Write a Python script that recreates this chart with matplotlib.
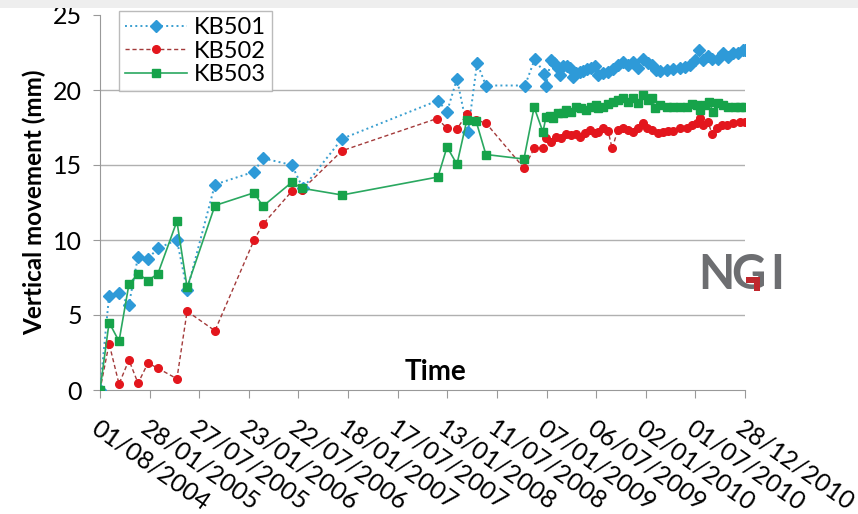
import matplotlib
matplotlib.use("Agg")
import matplotlib.pyplot as plt
import numpy as np
import pandas as pd
from matplotlib.patches import Rectangle, Polygon

start = np.datetime64("2004-08-01")

# days after 01/08/2004
days_501 = [0, 33, 69, 105, 138, 174, 210, 279, 316, 417, 559, 591, 696, 736, 878,
            1226, 1259, 1295, 1335, 1368, 1400, 1542, 1578, 1611, 1618, 1636, 1647,
            1662, 1669, 1680, 1694, 1705, 1716, 1727, 1741, 1752, 1767, 1781, 1796,
            1807, 1825, 1843, 1861, 1879, 1897, 1916, 1934, 1952, 1970, 1988, 2003,
            2017, 2032, 2057, 2079, 2104, 2122, 2140, 2159, 2173, 2188, 2206, 2220,
            2242, 2260, 2278, 2297, 2315, 2333, 2340]
kb501 = [0, 6.3, 6.45, 5.7, 8.9, 8.75, 9.45, 10.0, 6.65, 13.7, 14.55, 15.45, 15.0, 13.45, 16.75,
         19.3, 18.55, 20.75, 17.2, 21.8, 20.3, 20.3, 22.1, 21.1, 20.3, 22.0, 21.8,
         21.45, 21.0, 21.6, 21.6, 21.45, 20.9, 21.15, 21.2, 21.25, 21.4, 21.45, 21.6,
         21.0, 21.15, 21.2, 21.4, 21.65, 21.85, 21.65, 21.85, 21.45, 22.1, 21.8, 21.65,
         21.35, 21.3, 21.35, 21.4, 21.5, 21.55, 21.65, 22.0, 22.7, 22.0, 22.3, 22.1,
         22.1, 22.45, 22.2, 22.45, 22.5, 22.65, 22.7]

days_502 = [0, 33, 69, 105, 138, 174, 210, 279, 316, 417, 559, 591, 696, 733, 878,
            1223, 1259, 1295, 1331, 1364, 1400, 1538, 1575, 1607, 1618, 1636, 1654,
            1672, 1691, 1709, 1727, 1741, 1760, 1778, 1796, 1807, 1825, 1843, 1858,
            1879, 1897, 1916, 1934, 1952, 1970, 1985, 2003, 2024, 2043, 2061, 2079,
            2104, 2130, 2148, 2166, 2177, 2188, 2206, 2220, 2238, 2257, 2275, 2297,
            2322, 2340]
kb502 = [0, 3.1, 0.4, 2.0, 0.45, 1.8, 1.45, 0.75, 5.25, 3.95, 10.0, 11.05, 13.25, 13.35, 15.95,
         18.1, 17.45, 17.4, 18.4, 18.0, 17.8, 14.8, 16.1, 16.15, 16.8, 16.55, 16.85,
         16.8, 17.1, 17.0, 17.1, 16.85, 17.15, 17.35, 17.15, 17.2, 17.5, 17.3, 16.1,
         17.35, 17.5, 17.35, 17.2, 17.5, 17.8, 17.45, 17.35, 17.15, 17.2, 17.3, 17.3,
         17.45, 17.5, 17.65, 17.8, 18.15, 17.65, 17.85, 17.1, 17.45, 17.65, 17.65, 17.8,
         17.85, 17.9]

days_503 = [0, 33, 69, 105, 138, 174, 210, 279, 316, 417, 559, 591, 696, 733, 878,
            1226, 1259, 1295, 1331, 1364, 1400, 1538, 1575, 1607, 1618, 1633, 1643,
            1662, 1680, 1691, 1709, 1727, 1745, 1763, 1781, 1800, 1807, 1825, 1843,
            1861, 1879, 1897, 1916, 1934, 1952, 1970, 1988, 2003, 2014, 2032, 2057,
            2079, 2104, 2130, 2148, 2166, 2177, 2195, 2209, 2224, 2242, 2260, 2278,
            2304, 2322, 2340]
kb503 = [0, 4.5, 3.25, 7.05, 7.75, 7.3, 7.75, 11.25, 6.85, 12.3, 13.15, 12.25, 13.85, 13.45, 13.0,
         14.2, 16.2, 15.05, 18.0, 17.95, 15.7, 15.4, 18.85, 17.2, 18.2, 18.3, 18.15,
         18.45, 18.45, 18.65, 18.55, 18.85, 18.8, 18.7, 18.85, 19.0, 18.8, 18.85, 19.1,
         19.2, 19.35, 19.5, 19.2, 19.45, 19.15, 19.65, 19.35, 19.45, 18.8, 19.0, 18.85,
         18.85, 18.85, 18.85, 19.1, 19.0, 18.65, 19.0, 19.2, 18.55, 19.15, 19.0, 18.85,
         18.85, 18.85, 18.85]

tick_dates = pd.date_range("2004-08-01", periods=14, freq="180D")
tick_labels = tick_dates.strftime("%d/%m/%Y")

plt.rcParams["font.family"] = ["Lato", "DejaVu Sans"]

fig = plt.figure(figsize=(8.58, 5.14), dpi=100)
fig.patches.append(Rectangle((0, 1 - 8 / 514), 1, 8 / 514, transform=fig.transFigure,
                             facecolor="#eeeeee", edgecolor="none", zorder=0))
ax = fig.add_axes([100 / 858, 1 - 390 / 514, 645 / 858, 375 / 514])

x501 = start + np.array(days_501, dtype="timedelta64[D]")
x502 = start + np.array(days_502, dtype="timedelta64[D]")
x503 = start + np.array(days_503, dtype="timedelta64[D]")

ax.plot(x501, kb501, linestyle=":", color="#3a9fd0", lw=1.4, marker="D", ms=6,
        mfc="#2e9ad8", mec="#2e9ad8", label="KB501", zorder=3)
ax.plot(x502, kb502, linestyle="--", color="#a33a3a", lw=1.0, marker="o", ms=5.5,
        mfc="#e3161d", mec="#e3161d", label="KB502", zorder=3, dashes=(3, 2))
ax.plot(x503, kb503, linestyle="-", color="#2aa860", lw=1.2, marker="s", ms=5.5,
        mfc="#16a34a", mec="#16a34a", label="KB503", zorder=3)

ax.set_ylim(0, 25)
ax.set_xlim(tick_dates[0], tick_dates[-1])
ax.set_yticks([0, 5, 10, 15, 20, 25])
ax.tick_params(axis="y", labelsize=18, length=5, color="#999999", pad=8)
ax.set_xticks(tick_dates)
ax.set_xticklabels(tick_labels, rotation=-35, ha="left", va="top", rotation_mode="anchor",
                   fontsize=18)
ax.tick_params(axis="x", length=6, color="#999999", pad=13)

for v in [5, 10, 15, 20]:
    ax.axhline(v, color="#b0b0b0", lw=1.0, zorder=1)
for s in ["top", "right"]:
    ax.spines[s].set_visible(False)
ax.spines["left"].set_color("#999999")
ax.spines["bottom"].set_color("#999999")

ax.set_ylabel("Vertical movement (mm)", fontsize=17.5, fontweight="bold", labelpad=5)
ax.text(0.52, 0.048, "Time", transform=ax.transAxes, fontsize=20, fontweight="bold",
        ha="center", va="center")

leg = ax.legend(loc="upper left", bbox_to_anchor=(0.03, 1.01), borderaxespad=0,
                fontsize=17, frameon=True, fancybox=False, handlelength=2.6,
                labelspacing=0.1, borderpad=0.25, handletextpad=0.3)
leg.get_frame().set_edgecolor("#aaaaaa")
leg.get_frame().set_linewidth(1.0)

# NGI logo, letter by letter
for ch, xc in [("N", 716), ("G", 748), ("I", 777)]:
    fig.text(xc / 858, 1 - 275 / 514, ch, fontsize=34, color="#6d6e71", ha="center",
             va="center", fontweight="bold")
fig.patches.append(Polygon([(746 / 858, 1 - 277 / 514), (760 / 858, 1 - 277 / 514),
                            (760 / 858, 1 - 291 / 514), (754 / 858, 1 - 291 / 514),
                            (754 / 858, 1 - 283 / 514), (746 / 858, 1 - 283 / 514)],
                           closed=True, transform=fig.transFigure,
                           facecolor="#c0272d", edgecolor="none", zorder=5))

fig.savefig("out.png", dpi=100, facecolor="white")
